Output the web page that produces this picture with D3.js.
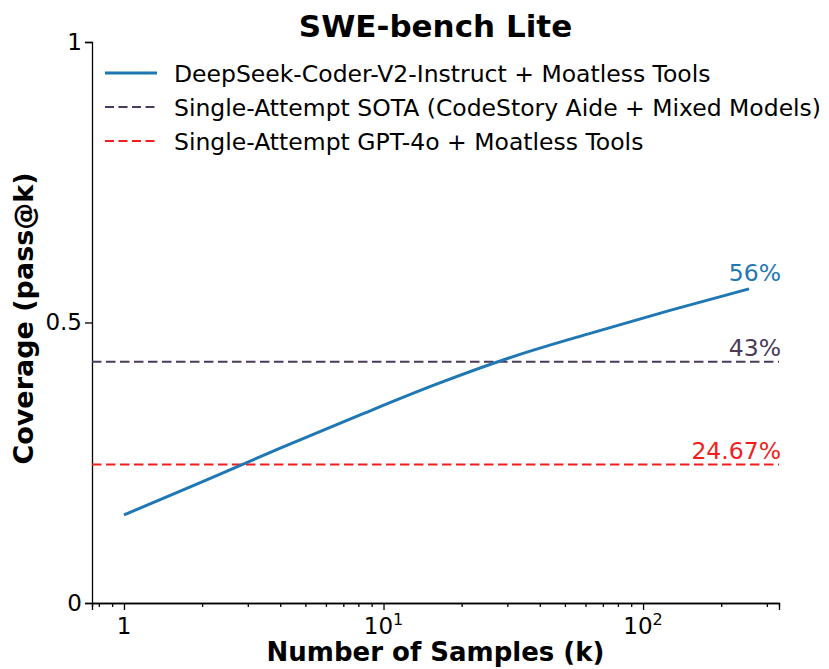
<!DOCTYPE html>
<html>
<head>
<meta charset="utf-8">
<script src="https://cdn.jsdelivr.net/npm/d3@7"></script>
<style>
  body { margin: 0; background: #fff; }
  text { font-family: "DejaVu Sans", sans-serif; }
</style>
</head>
<body>
<div id="chart-area"></div>
<script>
// samples k and coverage (pass@k)
var samples = [1, 2, 4, 8, 16, 32, 64, 128, 256];
var coverage = [0.157, 0.216, 0.276, 0.334, 0.39, 0.44, 0.482, 0.522, 0.56];

var baselineNames = ["Single-Attempt SOTA (CodeStory Aide + Mixed Models)", "Single-Attempt GPT-4o + Moatless Tools"];
var baselineValues = [0.43, 0.2467];
var baselineLabels = ["43%", "24.67%"];
var baselineColors = ["#4b3b5a", "#f21d1d"];

var seriesName = "DeepSeek-Coder-V2-Instruct + Moatless Tools";
var seriesLabel = "56%";

var yTicks = [0, 0.5, 1];
var yTickLabels = ["0", "0.5", "1"];
var xMajor = [1, 10, 100];

var margin = { left: 92, right: 50, top: 42, bottom: 66 };
var width = 829 - margin.left - margin.right;
var height = 669 - margin.top - margin.bottom;

var svg = d3.select("#chart-area").append("svg")
  .attr("width", 829)
  .attr("height", 669);

var g = svg.append("g")
  .attr("transform", "translate(" + margin.left + "," + margin.top + ")");

// scales
var x = d3.scaleLog()
  .domain([0.753, 334])
  .range([0, width]);

var y = d3.scaleLinear()
  .domain([0, 1])
  .range([height, 0]);

// minor ticks
var minor = [];
[0.1, 1, 10, 100].forEach(function(b) {
  for (var i = 2; i <= 9; i++) {
    var v = b * i;
    if (v >= x.domain()[0] && v <= x.domain()[1]) minor.push(v);
  }
});

// X Axis
var xAxisGroup = g.append("g")
  .attr("transform", "translate(0," + height + ")");

xAxisGroup.call(d3.axisBottom(x).tickValues(minor).tickSize(4).tickFormat(""));
var xMajorGroup = g.append("g")
  .attr("transform", "translate(0," + height + ")")
  .call(d3.axisBottom(x).tickValues(xMajor).tickSize(7).tickFormat(""));

[xAxisGroup, xMajorGroup].forEach(function(a) {
  a.select(".domain").attr("stroke", "#000").attr("stroke-width", 1.3);
  a.selectAll(".tick line").attr("stroke", "#000").attr("stroke-width", 1.3);
});

// x tick labels with superscripts
xMajor.forEach(function(v) {
  var t = g.append("text")
    .attr("x", x(v))
    .attr("y", height + 31)
    .attr("text-anchor", "middle")
    .attr("font-size", "23px")
    .attr("fill", "#000");
  if (v === 1) {
    t.text("1");
  } else {
    t.append("tspan").text("10");
    t.append("tspan")
      .attr("dy", -9)
      .attr("font-size", "16px")
      .text(Math.round(Math.log10(v)));
  }
});

// Y Axis
var yAxisGroup = g.append("g")
  .call(d3.axisLeft(y).tickValues(yTicks).tickSize(7)
    .tickFormat(function(d, i) { return yTickLabels[i]; }));
yAxisGroup.select(".domain").attr("stroke", "#000").attr("stroke-width", 1.3);
yAxisGroup.selectAll(".tick line").attr("stroke", "#000").attr("stroke-width", 1.3);
yAxisGroup.selectAll(".tick text")
  .attr("font-size", "23px")
  .attr("font-family", "DejaVu Sans")
  .attr("fill", "#000")
  .attr("x", -10);

// baselines
baselineValues.forEach(function(v, i) {
  g.append("line")
    .attr("x1", 0)
    .attr("x2", width)
    .attr("y1", y(v))
    .attr("y2", y(v))
    .attr("stroke", baselineColors[i])
    .attr("stroke-width", 2)
    .attr("stroke-dasharray", "9.5,4.5");

  g.append("text")
    .attr("x", width + 2)
    .attr("y", y(v) - 6)
    .attr("text-anchor", "end")
    .attr("font-size", "23.5px")
    .attr("fill", baselineColors[i])
    .text(baselineLabels[i]);
});

// main series
var line = d3.line()
  .x(function(d, i) { return x(samples[i]); })
  .y(function(d) { return y(d); })
  .curve(d3.curveMonotoneX);

g.append("path")
  .datum(coverage)
  .attr("fill", "none")
  .attr("stroke", "#1f77b4")
  .attr("stroke-width", 3)
  .attr("d", line);

var last = samples.length - 1;
g.append("text")
  .attr("x", width + 2)
  .attr("y", y(coverage[last]) - 8)
  .attr("text-anchor", "end")
  .attr("font-size", "23.5px")
  .attr("fill", "#1f77b4")
  .text(seriesLabel);

// legend
var legendItems = [
  { name: seriesName, color: "#1f77b4", dash: null, w: 3 },
  { name: baselineNames[0], color: baselineColors[0], dash: "9,4.5", w: 2 },
  { name: baselineNames[1], color: baselineColors[1], dash: "9,4.5", w: 2 }
];
var legend = g.append("g").attr("transform", "translate(13,31)");
legendItems.forEach(function(d, i) {
  var row = legend.append("g").attr("transform", "translate(0," + (i * 34) + ")");
  row.append("line")
    .attr("x1", 0).attr("x2", 52)
    .attr("stroke", d.color)
    .attr("stroke-width", d.w)
    .attr("stroke-dasharray", d.dash);
  row.append("text")
    .attr("x", 69)
    .attr("y", 8.5)
    .attr("font-size", "23.5px")
    .attr("fill", "#000")
    .text(d.name);
});

// title
svg.append("text")
  .attr("x", margin.left + width / 2)
  .attr("y", 37)
  .attr("text-anchor", "middle")
  .attr("font-size", "31px")
  .attr("font-weight", "bold")
  .text("SWE-bench Lite");

// X Label
svg.append("text")
  .attr("x", margin.left + width / 2)
  .attr("y", 661)
  .attr("text-anchor", "middle")
  .attr("font-size", "26px")
  .attr("font-weight", "bold")
  .text("Number of Samples (k)");

// Y Label
svg.append("text")
  .attr("transform", "rotate(-90)")
  .attr("x", -(margin.top + height / 2) + 4)
  .attr("y", 33)
  .attr("text-anchor", "middle")
  .attr("font-size", "27px")
  .attr("font-weight", "bold")
  .text("Coverage (pass@k)");
</script>
</body>
</html>
